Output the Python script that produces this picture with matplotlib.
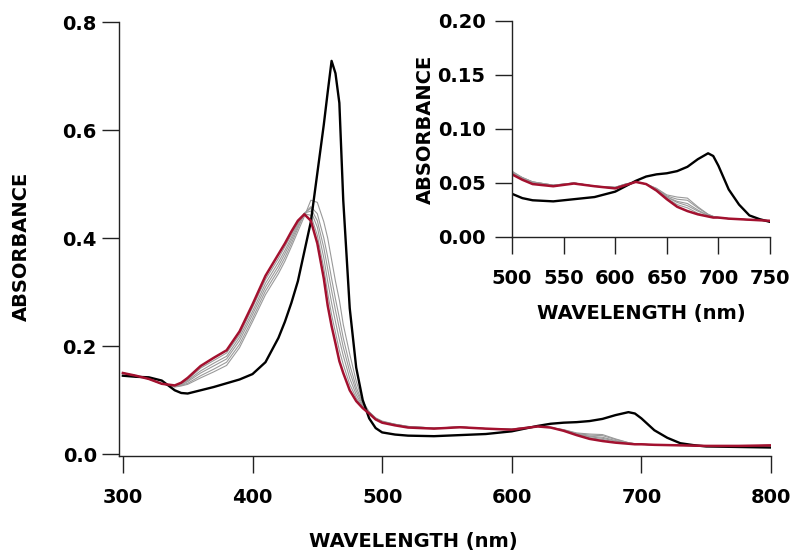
import numpy as np
import matplotlib
matplotlib.use("Agg")
import matplotlib.pyplot as plt

plt.rcParams['font.family'] = ['DejaVu Sans']
plt.rcParams['font.weight'] = 'bold'
plt.rcParams['axes.labelweight'] = 'bold'

# wavelength grid (nm)
wl = [300, 310, 320, 330, 340, 345, 350, 360, 370, 380,
      390, 400, 410, 420, 425, 430, 435, 440, 445, 450,
      455, 458, 461, 464, 467, 470, 475, 480, 485, 490,
      495, 500, 510, 520, 540, 560, 580, 600, 610, 620,
      630, 640, 650, 660, 670, 680, 690, 695, 700, 710,
      720, 730, 740, 750, 775, 800]

# initial spectrum (black)
a_start = [0.145, 0.143, 0.142, 0.136, 0.118, 0.113, 0.112, 0.118, 0.124, 0.131,
           0.138, 0.148, 0.170, 0.215, 0.245, 0.280, 0.320, 0.375, 0.430, 0.520,
           0.610, 0.670, 0.728, 0.705, 0.650, 0.470, 0.270, 0.160, 0.100, 0.066,
           0.048, 0.040, 0.036, 0.034, 0.033, 0.035, 0.037, 0.042, 0.047, 0.052,
           0.056, 0.058, 0.059, 0.061, 0.065, 0.072, 0.0775, 0.075, 0.066, 0.044,
           0.030, 0.020, 0.0165, 0.014, 0.013, 0.012]

# intermediate spectra (grey)
a_g1 = [0.150, 0.145, 0.139, 0.130, 0.124, 0.126, 0.129, 0.141, 0.152, 0.164,
        0.197, 0.245, 0.295, 0.334, 0.357, 0.384, 0.412, 0.440, 0.470, 0.466,
        0.430, 0.400, 0.360, 0.320, 0.285, 0.240, 0.185, 0.135, 0.098, 0.078,
        0.067, 0.061, 0.055, 0.051, 0.048, 0.050, 0.047, 0.046, 0.049, 0.051,
        0.049, 0.045, 0.039, 0.037, 0.036, 0.028, 0.021, 0.019, 0.018, 0.017,
        0.0165, 0.016, 0.0155, 0.015, 0.015, 0.016]
a_g2 = [0.150, 0.145, 0.139, 0.130, 0.125, 0.127, 0.131, 0.145, 0.157, 0.170,
        0.203, 0.251, 0.302, 0.341, 0.364, 0.390, 0.418, 0.445, 0.458, 0.445,
        0.400, 0.365, 0.325, 0.287, 0.252, 0.215, 0.165, 0.124, 0.094, 0.078,
        0.066, 0.060, 0.055, 0.051, 0.048, 0.050, 0.047, 0.046, 0.049, 0.051,
        0.049, 0.045, 0.038, 0.035, 0.034, 0.027, 0.021, 0.019, 0.018, 0.017,
        0.0165, 0.016, 0.0155, 0.015, 0.015, 0.016]
a_g3 = [0.150, 0.145, 0.139, 0.130, 0.125, 0.128, 0.134, 0.150, 0.163, 0.176,
        0.210, 0.258, 0.309, 0.348, 0.371, 0.396, 0.422, 0.446, 0.455, 0.432,
        0.382, 0.343, 0.303, 0.266, 0.232, 0.198, 0.152, 0.117, 0.091, 0.077,
        0.066, 0.060, 0.055, 0.051, 0.048, 0.050, 0.047, 0.046, 0.049, 0.051,
        0.049, 0.044, 0.037, 0.033, 0.031, 0.025, 0.020, 0.019, 0.018, 0.017,
        0.0165, 0.016, 0.0155, 0.015, 0.015, 0.016]
a_g4 = [0.150, 0.145, 0.139, 0.130, 0.126, 0.130, 0.136, 0.154, 0.168, 0.181,
        0.216, 0.264, 0.316, 0.355, 0.377, 0.401, 0.426, 0.446, 0.450, 0.420,
        0.363, 0.320, 0.280, 0.245, 0.212, 0.182, 0.140, 0.110, 0.088, 0.077,
        0.065, 0.059, 0.054, 0.050, 0.047, 0.050, 0.047, 0.045, 0.048, 0.051,
        0.049, 0.044, 0.037, 0.032, 0.029, 0.024, 0.020, 0.019, 0.018, 0.017,
        0.0165, 0.016, 0.0155, 0.015, 0.015, 0.016]
a_g5 = [0.150, 0.145, 0.139, 0.130, 0.126, 0.131, 0.138, 0.159, 0.173, 0.187,
        0.221, 0.271, 0.323, 0.362, 0.384, 0.406, 0.429, 0.445, 0.442, 0.405,
        0.344, 0.298, 0.258, 0.225, 0.192, 0.166, 0.129, 0.104, 0.086, 0.076,
        0.065, 0.059, 0.054, 0.050, 0.047, 0.050, 0.047, 0.045, 0.048, 0.051,
        0.049, 0.043, 0.036, 0.030, 0.027, 0.022, 0.019, 0.018, 0.018, 0.017,
        0.0165, 0.016, 0.0155, 0.015, 0.015, 0.016]

# final spectrum (red)
a_end = [0.150, 0.145, 0.139, 0.130, 0.127, 0.132, 0.141, 0.163, 0.178, 0.192,
         0.227, 0.277, 0.330, 0.370, 0.390, 0.412, 0.432, 0.444, 0.432, 0.390,
         0.325, 0.275, 0.237, 0.205, 0.172, 0.150, 0.118, 0.098, 0.085, 0.075,
         0.064, 0.058, 0.053, 0.049, 0.047, 0.0495, 0.047, 0.045, 0.048, 0.051,
         0.049, 0.043, 0.035, 0.028, 0.024, 0.021, 0.019, 0.018, 0.018, 0.017,
         0.0165, 0.016, 0.0155, 0.015, 0.015, 0.016]

greys = [a_g1, a_g2, a_g3, a_g4, a_g5]
RED = '#a3112f'
FS = 14


def draw(ax):
    for g in greys:
        ax.plot(wl, g, color='#9a9a9a', lw=0.8)
    ax.plot(wl, a_start, color='black', lw=1.7)
    ax.plot(wl, a_end, color=RED, lw=1.8)
    for s in ['top', 'right']:
        ax.spines[s].set_visible(False)
    for s in ['left', 'bottom']:
        ax.spines[s].set_linewidth(1.0)
        ax.spines[s].set_color('#222222')
    ax.tick_params(direction='out', length=12, width=1.0, color='#222222', labelsize=FS)


fig = plt.figure(figsize=(7.93, 5.54), dpi=100)

# main plot
ax = fig.add_axes([119/793, 98/554, 652/793, 434/554])
draw(ax)
ax.set_xlim(297, 800)
ax.set_ylim(-0.0037, 0.8)
ax.set_xticks([300, 400, 500, 600, 700, 800])
ax.set_yticks([0.0, 0.2, 0.4, 0.6, 0.8])
ax.set_yticklabels(['0.0', '0.2', '0.4', '0.6', '0.8'])
ax.tick_params(axis='x', pad=11)
ax.tick_params(axis='y', pad=4)
ax.set_xlabel('WAVELENGTH (nm)', fontsize=FS)
ax.set_ylabel('ABSORBANCE', fontsize=FS)
ax.xaxis.label.set_va('center')
ax.yaxis.label.set_va('center')
ax.xaxis.set_label_coords(0.451, -0.196)
ax.yaxis.set_label_coords(-0.150, 0.482)

# inset
ins = fig.add_axes([512/793, 317/554, 258/793, 216/554])
draw(ins)
ins.set_xlim(500, 750)
ins.set_ylim(0, 0.2)
ins.set_xticks([500, 550, 600, 650, 700, 750])
ins.set_yticks([0.0, 0.05, 0.10, 0.15, 0.20])
ins.set_yticklabels(['0.00', '0.05', '0.10', '0.15', '0.20'])
ins.tick_params(axis='x', pad=11)
ins.tick_params(axis='y', pad=7)
ins.set_xlabel('WAVELENGTH (nm)', fontsize=FS)
ins.set_ylabel('ABSORBANCE', fontsize=FS)
ins.xaxis.label.set_va('center')
ins.yaxis.label.set_va('center')
ins.xaxis.set_label_coords(0.5, -0.352)
ins.yaxis.set_label_coords(-0.337, 0.5)

fig.savefig('out.png', dpi=100)
